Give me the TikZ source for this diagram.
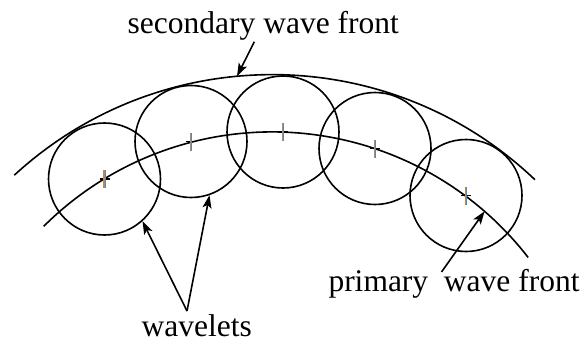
\documentclass[tikz,border=0pt]{standalone}
\usepackage{fontspec}
\setmainfont{Liberation Serif}
\usetikzlibrary{arrows.meta}
\definecolor{tickorange}{RGB}{200,135,60}
\definecolor{tickblue}{RGB}{70,140,210}
\tikzset{
  wave/.style={line width=1.6pt},
  wavelet/.style={circle, draw, line width=1.6pt, minimum size=112pt, inner sep=0pt},
  pointer/.style={line width=1.6pt, -{Stealth[length=13pt,width=9pt,inset=3pt]}},
  lbl/.style={font=\rmfamily\fontsize{31.5}{36}\selectfont, inner sep=0pt},
  centermark/.pic={
    \draw[black,line width=1.2pt] (-5,0) -- (5,0);
    \draw[tickorange,line width=1.1pt] (-0.55,-9) -- (-0.55,9);
    \draw[tickblue,line width=1.1pt] (0.55,-9) -- (0.55,9);
  }
}
\begin{document}
\begin{tikzpicture}[x=1pt,y=-1pt]
\useasboundingbox (0,0) rectangle (580,342);
\coordinate (C) at (272.2,455.6);
% wave fronts
\path (C) ++(-132.6:381) coordinate (s0);
\draw[wave] (s0) arc[start angle=-132.6,end angle=-46.4,radius=381];
\path (C) ++(-134.9:323.7) coordinate (p0);
\draw[wave] (p0) arc[start angle=-134.9,end angle=-37.75,radius=323.7];
% wavelets
\node[wavelet] (w1) at (104.5,179) {};
\node[wavelet] (w2) at (191,141.5) {};
\node[wavelet] (w3) at (283,132) {};
\node[wavelet] (w4) at (375,148.5) {};
\node[wavelet] (w5) at (466,195.5) {};
\foreach \n in {w1,w2,w3,w4,w5} { \pic at (\n.center) {centermark}; }
% labels
\node[lbl, anchor=base] (sec) at (263.3,33.3) {secondary wave front};
\node[lbl, anchor=base west] (pri) at (328.3,291.7) {primary\ \ wave front};
\node[lbl, anchor=base] (wl) at (196.7,336.7) {wavelets};
% pointers
\coordinate (sa) at (254.3,41.7);
\path (C) ++(-95.3:381) coordinate (st);
\draw[pointer] (sa) -- (st);
\coordinate (wa) at (187,311);
\draw[pointer] (wa) -- (w1.-48);
\draw[pointer] (wa) -- (w2.-71);
\coordinate (pa) at (441.5,272);
\path (C) ++(-49:323.7) coordinate (pt);
\draw[pointer] (pa) -- (pt);
\end{tikzpicture}
\end{document}
